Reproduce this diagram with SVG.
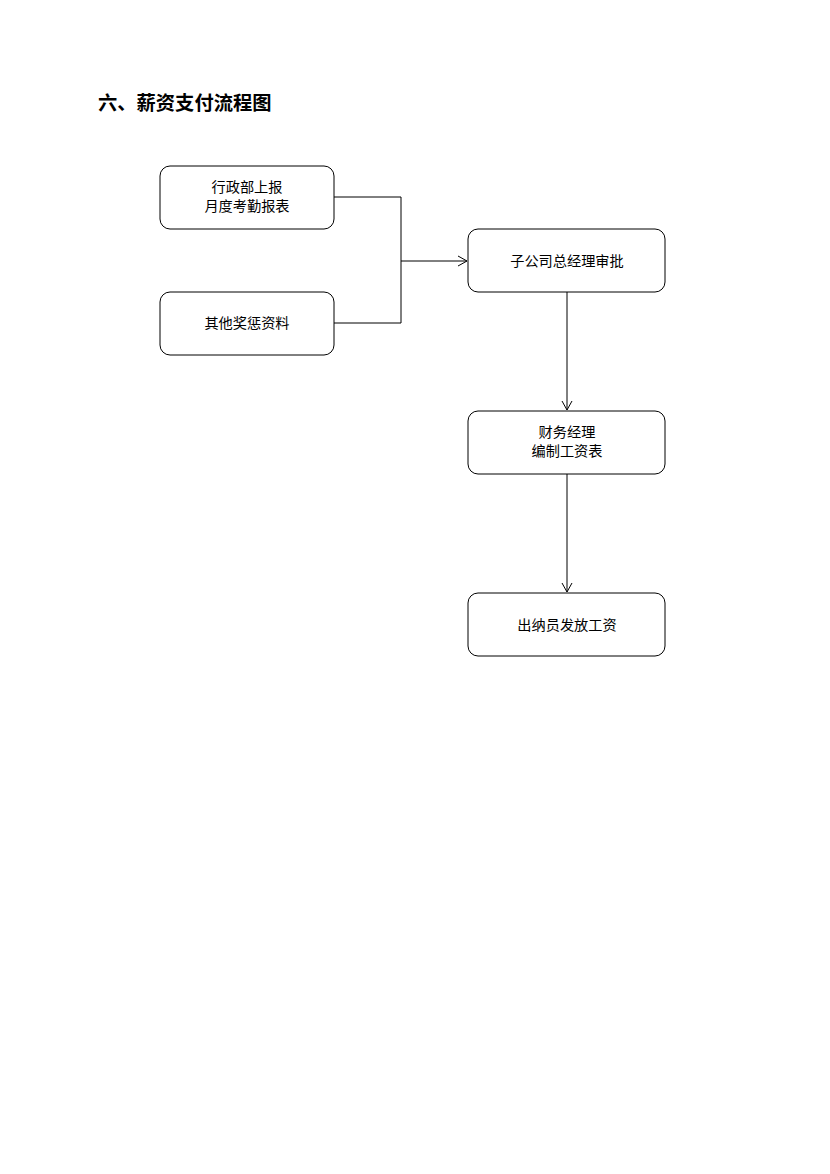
<svg xmlns="http://www.w3.org/2000/svg" width="830" height="1174" viewBox="0 0 830 1174">
<style>
.box{fill:#fff;stroke:#000;stroke-width:1}
.t{font-family:"Noto Sans CJK SC","Liberation Sans",sans-serif;font-size:14.2px;fill:#000;text-anchor:middle}
.title{font-family:"Noto Sans CJK SC","Liberation Sans",sans-serif;font-size:19.3px;font-weight:bold;fill:#000}
.c{fill:none;stroke:#000;stroke-width:1}
</style>
<defs>
<marker id="arr" markerWidth="12" markerHeight="12" refX="10" refY="6" orient="auto" markerUnits="userSpaceOnUse">
<path d="M1,1 L10,6 L1,11" fill="none" stroke="#000" stroke-width="1"/>
</marker>
</defs>
<rect width="830" height="1174" fill="#fff"/>
<text class="title" x="98" y="110">六、薪资支付流程图</text>
<g id="connectors">
<path class="c" d="M334,197 H401 V323 H334"/>
<path class="c" d="M401,261 H467" marker-end="url(#arr)"/>
<path class="c" d="M567,292 V410" marker-end="url(#arr)"/>
<path class="c" d="M567,474 V592" marker-end="url(#arr)"/>
</g>
<g id="n1"><rect class="box" x="160" y="166" width="174" height="63" rx="10"/><text class="t" x="247" y="192">行政部上报</text><text class="t" x="247" y="211">月度考勤报表</text></g>
<g id="n2"><rect class="box" x="160" y="292" width="174" height="63" rx="10"/><text class="t" x="247" y="328">其他奖惩资料</text></g>
<g id="n3"><rect class="box" x="468" y="229" width="197" height="63" rx="10"/><text class="t" x="567" y="266">子公司总经理审批</text></g>
<g id="n4"><rect class="box" x="468" y="411" width="197" height="63" rx="10"/><text class="t" x="567" y="437">财务经理</text><text class="t" x="567" y="456">编制工资表</text></g>
<g id="n5"><rect class="box" x="468" y="593" width="197" height="63" rx="10"/><text class="t" x="567" y="630">出纳员发放工资</text></g>
</svg>
